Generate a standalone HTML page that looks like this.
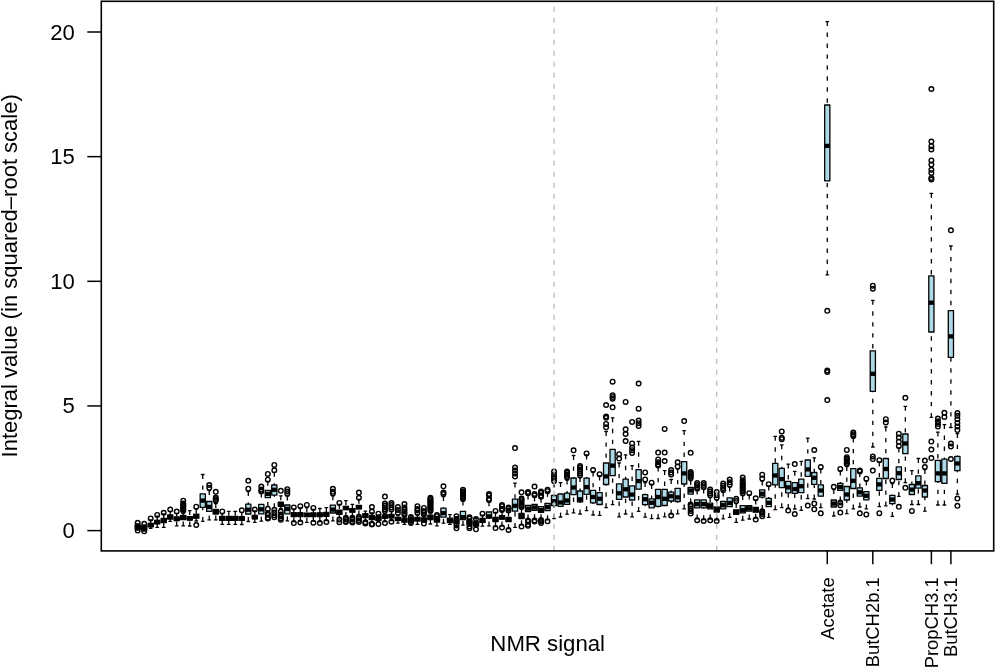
<!DOCTYPE html>
<html><head><meta charset="utf-8"><title>NMR boxplot</title>
<style>html,body{margin:0;padding:0;background:#fff;width:995px;height:667px;overflow:hidden}svg{display:block;will-change:transform}</style>
</head><body>
<svg width="995" height="667" viewBox="0 0 995 667">
<style>
.b{fill:#add8e6;stroke:#000;stroke-width:1.3;stroke-linejoin:round}
.w{fill:none;stroke:#000;stroke-width:1.3;stroke-dasharray:4.4 6.55;stroke-linecap:butt}
.s{fill:none;stroke:#000;stroke-width:1.3;stroke-linecap:round}
.m{fill:none;stroke:#000;stroke-width:4.3;stroke-linecap:butt}
.o{fill:none;stroke:#000;stroke-width:1.4}
.t{fill:none;stroke:#000;stroke-width:1.5}
text{font-family:"Liberation Sans",sans-serif;fill:#000}
.yl{font-size:22.1px;text-anchor:end}
.xl{font-size:18.4px;text-anchor:end}
.ti{font-size:22.2px;text-anchor:middle}
</style>
<rect width="995" height="667" fill="#fff"/>
<rect x="135.1" y="525" width="5.2" height="4" class="b"/><path d="M137.7 524V525" class="w"/><path d="M137.7 530V529" class="w"/><path d="M136.4 524H139M136.4 530H139" class="s"/><path d="M135.1 527H140.3" class="m"/><circle cx="137.7" cy="522.8" r="2.3" class="o"/><circle cx="137.7" cy="530.6" r="2.3" class="o"/>
<rect x="141.61" y="526" width="5.2" height="4" class="b"/><path d="M144.21 525V526" class="w"/><path d="M144.21 531V530" class="w"/><path d="M142.91 525H145.51M142.91 531H145.51" class="s"/><path d="M141.61 527.8H146.81" class="m"/><circle cx="144.21" cy="523.8" r="2.3" class="o"/><circle cx="144.21" cy="531.3" r="2.3" class="o"/>
<rect x="148.11" y="523.3" width="5.2" height="3.5" class="b"/><path d="M150.71 519.8V523.3" class="w"/><path d="M150.71 528.3V526.8" class="w"/><path d="M149.41 519.8H152.01M149.41 528.3H152.01" class="s"/><path d="M148.11 525H153.31" class="m"/><circle cx="150.71" cy="518.4" r="2.3" class="o"/>
<rect x="154.62" y="520.3" width="5.2" height="3.5" class="b"/><path d="M157.22 516.1V520.3" class="w"/><path d="M157.22 527.4V523.8" class="w"/><path d="M155.92 516.1H158.52M155.92 527.4H158.52" class="s"/><path d="M154.62 522H159.82" class="m"/><circle cx="157.22" cy="514.9" r="2.3" class="o"/>
<rect x="161.12" y="518.4" width="5.2" height="4.1" class="b"/><path d="M163.72 514V518.4" class="w"/><path d="M163.72 527.4V522.5" class="w"/><path d="M162.42 514H165.02M162.42 527.4H165.02" class="s"/><path d="M161.12 520.5H166.32" class="m"/><circle cx="163.72" cy="512.8" r="2.3" class="o"/>
<rect x="167.63" y="515" width="5.2" height="4" class="b"/><path d="M170.23 511.4V515" class="w"/><path d="M170.23 521.4V519" class="w"/><path d="M168.93 511.4H171.53M168.93 521.4H171.53" class="s"/><path d="M167.63 517H172.83" class="m"/><circle cx="170.23" cy="509.6" r="2.3" class="o"/>
<rect x="174.13" y="516.9" width="5.2" height="3.7" class="b"/><path d="M176.73 513.3V516.9" class="w"/><path d="M176.73 525.9V520.6" class="w"/><path d="M175.43 513.3H178.03M175.43 525.9H178.03" class="s"/><path d="M174.13 519H179.33" class="m"/><circle cx="176.73" cy="511.5" r="2.3" class="o"/>
<rect x="180.64" y="515.4" width="5.2" height="4.1" class="b"/><path d="M183.24 513V515.4" class="w"/><path d="M183.24 525.9V519.5" class="w"/><path d="M181.94 513H184.54M181.94 525.9H184.54" class="s"/><path d="M180.64 517.5H185.84" class="m"/><circle cx="183.24" cy="500.7" r="2.3" class="o"/><circle cx="183.24" cy="503.5" r="2.3" class="o"/><circle cx="183.24" cy="504.7" r="2.3" class="o"/><circle cx="183.24" cy="505.9" r="2.3" class="o"/><circle cx="183.24" cy="507.1" r="2.3" class="o"/><circle cx="183.24" cy="508.3" r="2.3" class="o"/><circle cx="183.24" cy="509.5" r="2.3" class="o"/><circle cx="183.24" cy="510.7" r="2.3" class="o"/>
<rect x="187.14" y="516.6" width="5.2" height="3.4" class="b"/><path d="M189.74 510.7V516.6" class="w"/><path d="M189.74 526V520" class="w"/><path d="M188.44 510.7H191.04M188.44 526H191.04" class="s"/><path d="M187.14 518.4H192.34" class="m"/>
<rect x="193.65" y="514.2" width="5.2" height="4" class="b"/><path d="M196.25 509V514.2" class="w"/><path d="M196.25 521V518.2" class="w"/><path d="M194.95 509H197.55M194.95 521H197.55" class="s"/><path d="M193.65 516.4H198.85" class="m"/><circle cx="196.25" cy="506.7" r="2.3" class="o"/><circle cx="196.25" cy="525" r="2.3" class="o"/>
<rect x="200.16" y="493.8" width="5.2" height="13.5" class="b"/><path d="M202.76 474.5V493.8" class="w"/><path d="M202.76 521.3V507.3" class="w"/><path d="M201.46 474.5H204.06M201.46 521.3H204.06" class="s"/><path d="M200.16 500.6H205.36" class="m"/>
<rect x="206.66" y="501.5" width="5.2" height="9.9" class="b"/><path d="M209.26 490.5V501.5" class="w"/><path d="M209.26 519.9V511.4" class="w"/><path d="M207.96 490.5H210.56M207.96 519.9H210.56" class="s"/><path d="M206.66 506.9H211.86" class="m"/><circle cx="209.26" cy="485" r="2.3" class="o"/><circle cx="209.26" cy="487.8" r="2.3" class="o"/>
<rect x="213.17" y="509.5" width="5.2" height="4.5" class="b"/><path d="M215.77 503.5V509.5" class="w"/><path d="M215.77 519.9V514" class="w"/><path d="M214.47 503.5H217.07M214.47 519.9H217.07" class="s"/><path d="M213.17 511.8H218.37" class="m"/><circle cx="215.77" cy="491.8" r="2.3" class="o"/><circle cx="215.77" cy="497.5" r="2.3" class="o"/><circle cx="215.77" cy="499" r="2.3" class="o"/><circle cx="215.77" cy="500.5" r="2.3" class="o"/>
<rect x="219.67" y="516.3" width="5.2" height="4.1" class="b"/><path d="M222.27 513.5V516.3" class="w"/><path d="M222.27 524.4V520.4" class="w"/><path d="M220.97 513.5H223.57M220.97 524.4H223.57" class="s"/><path d="M219.67 518.3H224.87" class="m"/><circle cx="222.27" cy="511.4" r="2.3" class="o"/>
<rect x="226.18" y="516.3" width="5.2" height="4.1" class="b"/><path d="M228.78 511.4V516.3" class="w"/><path d="M228.78 524.4V520.4" class="w"/><path d="M227.48 511.4H230.08M227.48 524.4H230.08" class="s"/><path d="M226.18 518.3H231.38" class="m"/>
<rect x="232.68" y="516.3" width="5.2" height="4.1" class="b"/><path d="M235.28 511.4V516.3" class="w"/><path d="M235.28 524.4V520.4" class="w"/><path d="M233.98 511.4H236.58M233.98 524.4H236.58" class="s"/><path d="M232.68 518.3H237.88" class="m"/>
<rect x="239.19" y="516.6" width="5.2" height="3.8" class="b"/><path d="M241.79 512.3V516.6" class="w"/><path d="M241.79 524.5V520.4" class="w"/><path d="M240.49 512.3H243.09M240.49 524.5H243.09" class="s"/><path d="M239.19 518.5H244.39" class="m"/><circle cx="241.79" cy="510.3" r="2.3" class="o"/>
<rect x="245.69" y="504.2" width="5.2" height="9.8" class="b"/><path d="M248.29 491.5V504.2" class="w"/><path d="M248.29 521.5V514" class="w"/><path d="M246.99 491.5H249.59M246.99 521.5H249.59" class="s"/><path d="M245.69 509.7H250.89" class="m"/><circle cx="248.29" cy="480.8" r="2.3" class="o"/><circle cx="248.29" cy="488.7" r="2.3" class="o"/>
<rect x="252.2" y="515.5" width="5.2" height="3.3" class="b"/><path d="M254.8 511V515.5" class="w"/><path d="M254.8 522.4V518.8" class="w"/><path d="M253.5 511H256.1M253.5 522.4H256.1" class="s"/><path d="M252.2 517.2H257.4" class="m"/><circle cx="254.8" cy="509.5" r="2.3" class="o"/>
<rect x="258.71" y="504.4" width="5.2" height="9.5" class="b"/><path d="M261.31 493V504.4" class="w"/><path d="M261.31 521.2V513.9" class="w"/><path d="M260.01 493H262.61M260.01 521.2H262.61" class="s"/><path d="M258.71 509.3H263.91" class="m"/><circle cx="261.31" cy="486.5" r="2.3" class="o"/><circle cx="261.31" cy="489.5" r="2.3" class="o"/><circle cx="261.31" cy="491.5" r="2.3" class="o"/>
<rect x="265.21" y="490.4" width="5.2" height="7.3" class="b"/><path d="M267.81 481.3V490.4" class="w"/><path d="M267.81 506.3V497.7" class="w"/><path d="M266.51 481.3H269.11M266.51 506.3H269.11" class="s"/><path d="M265.21 493.9H270.41" class="m"/><circle cx="267.81" cy="473.9" r="2.3" class="o"/><circle cx="267.81" cy="479.7" r="2.3" class="o"/><circle cx="267.81" cy="508.9" r="2.3" class="o"/><circle cx="267.81" cy="513.3" r="2.3" class="o"/><circle cx="267.81" cy="514.8" r="2.3" class="o"/><circle cx="267.81" cy="517.6" r="2.3" class="o"/><circle cx="267.81" cy="518.6" r="2.3" class="o"/>
<rect x="271.72" y="485" width="5.2" height="10.1" class="b"/><path d="M274.32 472.3V485" class="w"/><path d="M274.32 507.6V495.1" class="w"/><path d="M273.02 472.3H275.62M273.02 507.6H275.62" class="s"/><path d="M271.72 489.8H276.92" class="m"/><circle cx="274.32" cy="464.9" r="2.3" class="o"/><circle cx="274.32" cy="470.3" r="2.3" class="o"/><circle cx="274.32" cy="509.8" r="2.3" class="o"/><circle cx="274.32" cy="512.6" r="2.3" class="o"/><circle cx="274.32" cy="515.2" r="2.3" class="o"/><circle cx="274.32" cy="517.3" r="2.3" class="o"/>
<rect x="278.22" y="502.2" width="5.2" height="4.1" class="b"/><path d="M280.82 495.8V502.2" class="w"/><path d="M280.82 508.5V506.3" class="w"/><path d="M279.52 495.8H282.12M279.52 508.5H282.12" class="s"/><path d="M278.22 504.3H283.42" class="m"/><circle cx="280.82" cy="490.8" r="2.3" class="o"/><circle cx="280.82" cy="511.6" r="2.3" class="o"/><circle cx="280.82" cy="514.5" r="2.3" class="o"/><circle cx="280.82" cy="516.5" r="2.3" class="o"/><circle cx="280.82" cy="518.5" r="2.3" class="o"/><circle cx="280.82" cy="519.8" r="2.3" class="o"/>
<rect x="284.73" y="505" width="5.2" height="8.8" class="b"/><path d="M287.33 496V505" class="w"/><path d="M287.33 520.9V513.8" class="w"/><path d="M286.03 496H288.63M286.03 520.9H288.63" class="s"/><path d="M284.73 508.8H289.93" class="m"/><circle cx="287.33" cy="489.2" r="2.3" class="o"/><circle cx="287.33" cy="491.5" r="2.3" class="o"/><circle cx="287.33" cy="493.8" r="2.3" class="o"/>
<rect x="291.23" y="512.7" width="5.2" height="3.9" class="b"/><path d="M293.83 509V512.7" class="w"/><path d="M293.83 521.6V516.6" class="w"/><path d="M292.53 509H295.13M292.53 521.6H295.13" class="s"/><path d="M291.23 514.5H296.43" class="m"/><circle cx="293.83" cy="507.4" r="2.3" class="o"/><circle cx="293.83" cy="523.1" r="2.3" class="o"/>
<rect x="297.74" y="512.7" width="5.2" height="3.9" class="b"/><path d="M300.34 507.8V512.7" class="w"/><path d="M300.34 521V516.6" class="w"/><path d="M299.04 507.8H301.64M299.04 521H301.64" class="s"/><path d="M297.74 514.5H302.94" class="m"/><circle cx="300.34" cy="506.2" r="2.3" class="o"/><circle cx="300.34" cy="522.5" r="2.3" class="o"/>
<rect x="304.24" y="513.2" width="5.2" height="3.4" class="b"/><path d="M306.84 507.6V513.2" class="w"/><path d="M306.84 522.4V516.6" class="w"/><path d="M305.54 507.6H308.14M305.54 522.4H308.14" class="s"/><path d="M304.24 515H309.44" class="m"/><circle cx="306.84" cy="504.9" r="2.3" class="o"/>
<rect x="310.75" y="513" width="5.2" height="3.6" class="b"/><path d="M313.35 509.5V513" class="w"/><path d="M313.35 521.2V516.6" class="w"/><path d="M312.05 509.5H314.65M312.05 521.2H314.65" class="s"/><path d="M310.75 514.8H315.95" class="m"/><circle cx="313.35" cy="507.9" r="2.3" class="o"/><circle cx="313.35" cy="522.7" r="2.3" class="o"/>
<rect x="317.25" y="512.9" width="5.2" height="3.6" class="b"/><path d="M319.85 508.5V512.9" class="w"/><path d="M319.85 521.5V516.5" class="w"/><path d="M318.55 508.5H321.15M318.55 521.5H321.15" class="s"/><path d="M317.25 514.7H322.45" class="m"/><circle cx="319.85" cy="523.1" r="2.3" class="o"/>
<rect x="323.76" y="512.4" width="5.2" height="3.9" class="b"/><path d="M326.36 507.7V512.4" class="w"/><path d="M326.36 520.6V516.3" class="w"/><path d="M325.06 507.7H327.66M325.06 520.6H327.66" class="s"/><path d="M323.76 514.3H328.96" class="m"/><circle cx="326.36" cy="522" r="2.3" class="o"/>
<rect x="330.27" y="505.1" width="5.2" height="7.9" class="b"/><path d="M332.87 495.8V505.1" class="w"/><path d="M332.87 520.9V513" class="w"/><path d="M331.57 495.8H334.17M331.57 520.9H334.17" class="s"/><path d="M330.27 509.6H335.47" class="m"/><circle cx="332.87" cy="488.8" r="2.3" class="o"/><circle cx="332.87" cy="491.8" r="2.3" class="o"/><circle cx="332.87" cy="493.5" r="2.3" class="o"/>
<rect x="336.77" y="510.2" width="5.2" height="4.2" class="b"/><path d="M339.37 504.5V510.2" class="w"/><path d="M339.37 517.8V514.4" class="w"/><path d="M338.07 504.5H340.67M338.07 517.8H340.67" class="s"/><path d="M336.77 512.3H341.97" class="m"/><circle cx="339.37" cy="502.9" r="2.3" class="o"/><circle cx="339.37" cy="519.6" r="2.3" class="o"/><circle cx="339.37" cy="522.2" r="2.3" class="o"/>
<rect x="343.28" y="506.4" width="5.2" height="3.2" class="b"/><path d="M345.88 500.6V506.4" class="w"/><path d="M345.88 516.5V509.6" class="w"/><path d="M344.58 500.6H347.18M344.58 516.5H347.18" class="s"/><path d="M343.28 508H348.48" class="m"/><circle cx="345.88" cy="517.8" r="2.3" class="o"/><circle cx="345.88" cy="519.3" r="2.3" class="o"/><circle cx="345.88" cy="521.2" r="2.3" class="o"/><circle cx="345.88" cy="522" r="2.3" class="o"/>
<rect x="349.78" y="508.6" width="5.2" height="3.6" class="b"/><path d="M352.38 504.4V508.6" class="w"/><path d="M352.38 516.3V512.2" class="w"/><path d="M351.08 504.4H353.68M351.08 516.3H353.68" class="s"/><path d="M349.78 510.4H354.98" class="m"/><circle cx="352.38" cy="517.8" r="2.3" class="o"/><circle cx="352.38" cy="519.5" r="2.3" class="o"/><circle cx="352.38" cy="521.6" r="2.3" class="o"/><circle cx="352.38" cy="522.5" r="2.3" class="o"/>
<rect x="356.29" y="505.3" width="5.2" height="3.6" class="b"/><path d="M358.89 499.3V505.3" class="w"/><path d="M358.89 514.8V508.9" class="w"/><path d="M357.59 499.3H360.19M357.59 514.8H360.19" class="s"/><path d="M356.29 507.2H361.49" class="m"/><circle cx="358.89" cy="492.6" r="2.3" class="o"/><circle cx="358.89" cy="497.8" r="2.3" class="o"/><circle cx="358.89" cy="516.8" r="2.3" class="o"/><circle cx="358.89" cy="518.5" r="2.3" class="o"/><circle cx="358.89" cy="520.5" r="2.3" class="o"/><circle cx="358.89" cy="522" r="2.3" class="o"/>
<rect x="362.79" y="513.6" width="5.2" height="3.9" class="b"/><path d="M365.39 511.1V513.6" class="w"/><path d="M365.39 520.5V517.5" class="w"/><path d="M364.09 511.1H366.69M364.09 520.5H366.69" class="s"/><path d="M362.79 515.5H367.99" class="m"/><circle cx="365.39" cy="522.2" r="2.3" class="o"/><circle cx="365.39" cy="523.4" r="2.3" class="o"/>
<rect x="369.3" y="515.4" width="5.2" height="4.2" class="b"/><path d="M371.9 513V515.4" class="w"/><path d="M371.9 522V519.6" class="w"/><path d="M370.6 513H373.2M370.6 522H373.2" class="s"/><path d="M369.3 517.5H374.5" class="m"/><circle cx="371.9" cy="507" r="2.3" class="o"/><circle cx="371.9" cy="511.6" r="2.3" class="o"/><circle cx="371.9" cy="523.9" r="2.3" class="o"/><circle cx="371.9" cy="524.6" r="2.3" class="o"/>
<rect x="375.8" y="516.7" width="5.2" height="3.7" class="b"/><path d="M378.4 515V516.7" class="w"/><path d="M378.4 521.6V520.4" class="w"/><path d="M377.1 515H379.7M377.1 521.6H379.7" class="s"/><path d="M375.8 518.5H381" class="m"/><circle cx="378.4" cy="513.7" r="2.3" class="o"/><circle cx="378.4" cy="524" r="2.3" class="o"/>
<rect x="382.31" y="515" width="5.2" height="3.2" class="b"/><path d="M384.91 513.5V515" class="w"/><path d="M384.91 521.5V518.2" class="w"/><path d="M383.61 513.5H386.21M383.61 521.5H386.21" class="s"/><path d="M382.31 516.6H387.51" class="m"/><circle cx="384.91" cy="496.6" r="2.3" class="o"/><circle cx="384.91" cy="503.5" r="2.3" class="o"/><circle cx="384.91" cy="505.6" r="2.3" class="o"/><circle cx="384.91" cy="507.5" r="2.3" class="o"/><circle cx="384.91" cy="509.3" r="2.3" class="o"/><circle cx="384.91" cy="511" r="2.3" class="o"/><circle cx="384.91" cy="522.9" r="2.3" class="o"/>
<rect x="388.82" y="514.5" width="5.2" height="3.3" class="b"/><path d="M391.42 511.5V514.5" class="w"/><path d="M391.42 520.5V517.8" class="w"/><path d="M390.12 511.5H392.72M390.12 520.5H392.72" class="s"/><path d="M388.82 516.2H394.02" class="m"/><circle cx="391.42" cy="503" r="2.3" class="o"/><circle cx="391.42" cy="505" r="2.3" class="o"/><circle cx="391.42" cy="507.5" r="2.3" class="o"/><circle cx="391.42" cy="509.5" r="2.3" class="o"/><circle cx="391.42" cy="521.7" r="2.3" class="o"/>
<rect x="395.32" y="517.5" width="5.2" height="2.9" class="b"/><path d="M397.92 515V517.5" class="w"/><path d="M397.92 523.1V520.4" class="w"/><path d="M396.62 515H399.22M396.62 523.1H399.22" class="s"/><path d="M395.32 519H400.52" class="m"/><circle cx="397.92" cy="507" r="2.3" class="o"/><circle cx="397.92" cy="510" r="2.3" class="o"/><circle cx="397.92" cy="513" r="2.3" class="o"/>
<rect x="401.83" y="518.2" width="5.2" height="4" class="b"/><path d="M404.43 516.5V518.2" class="w"/><path d="M404.43 524.4V522.2" class="w"/><path d="M403.13 516.5H405.73M403.13 524.4H405.73" class="s"/><path d="M401.83 520.2H407.03" class="m"/><circle cx="404.43" cy="504.1" r="2.3" class="o"/><circle cx="404.43" cy="507.5" r="2.3" class="o"/><circle cx="404.43" cy="509.5" r="2.3" class="o"/><circle cx="404.43" cy="511.5" r="2.3" class="o"/><circle cx="404.43" cy="513.3" r="2.3" class="o"/><circle cx="404.43" cy="515" r="2.3" class="o"/>
<rect x="408.33" y="518" width="5.2" height="4" class="b"/><path d="M410.93 516V518" class="w"/><path d="M410.93 524V522" class="w"/><path d="M409.63 516H412.23M409.63 524H412.23" class="s"/><path d="M408.33 520H413.53" class="m"/><circle cx="410.93" cy="517" r="2.3" class="o"/><circle cx="410.93" cy="520" r="2.3" class="o"/><circle cx="410.93" cy="523" r="2.3" class="o"/>
<rect x="414.84" y="517.4" width="5.2" height="3.4" class="b"/><path d="M417.44 514.8V517.4" class="w"/><path d="M417.44 524.4V520.8" class="w"/><path d="M416.14 514.8H418.74M416.14 524.4H418.74" class="s"/><path d="M414.84 519.2H420.04" class="m"/><circle cx="417.44" cy="506.2" r="2.3" class="o"/><circle cx="417.44" cy="509" r="2.3" class="o"/><circle cx="417.44" cy="510.5" r="2.3" class="o"/><circle cx="417.44" cy="513.1" r="2.3" class="o"/>
<rect x="421.34" y="518" width="5.2" height="3.7" class="b"/><path d="M423.94 516V518" class="w"/><path d="M423.94 522.2V521.7" class="w"/><path d="M422.64 516H425.24M422.64 522.2H425.24" class="s"/><path d="M421.34 520H426.54" class="m"/><circle cx="423.94" cy="507.9" r="2.3" class="o"/><circle cx="423.94" cy="511" r="2.3" class="o"/><circle cx="423.94" cy="512.7" r="2.3" class="o"/><circle cx="423.94" cy="514.5" r="2.3" class="o"/><circle cx="423.94" cy="523.6" r="2.3" class="o"/>
<rect x="427.85" y="515.2" width="5.2" height="4.3" class="b"/><path d="M430.45 512.5V515.2" class="w"/><path d="M430.45 524V519.5" class="w"/><path d="M429.15 512.5H431.75M429.15 524H431.75" class="s"/><path d="M427.85 517.2H433.05" class="m"/><circle cx="430.45" cy="497.8" r="2.3" class="o"/><circle cx="430.45" cy="499" r="2.3" class="o"/><circle cx="430.45" cy="500.2" r="2.3" class="o"/><circle cx="430.45" cy="501.4" r="2.3" class="o"/><circle cx="430.45" cy="502.6" r="2.3" class="o"/><circle cx="430.45" cy="503.8" r="2.3" class="o"/><circle cx="430.45" cy="505" r="2.3" class="o"/><circle cx="430.45" cy="506.2" r="2.3" class="o"/><circle cx="430.45" cy="507.4" r="2.3" class="o"/><circle cx="430.45" cy="508.6" r="2.3" class="o"/><circle cx="430.45" cy="509.8" r="2.3" class="o"/><circle cx="430.45" cy="511" r="2.3" class="o"/>
<rect x="434.35" y="517.6" width="5.2" height="4.6" class="b"/><path d="M436.95 516.5V517.6" class="w"/><path d="M436.95 525.9V522.2" class="w"/><path d="M435.65 516.5H438.25M435.65 525.9H438.25" class="s"/><path d="M434.35 519.8H439.55" class="m"/><circle cx="436.95" cy="515" r="2.3" class="o"/><circle cx="436.95" cy="516.2" r="2.3" class="o"/>
<rect x="440.86" y="508.2" width="5.2" height="9" class="b"/><path d="M443.46 496.5V508.2" class="w"/><path d="M443.46 523.2V517.2" class="w"/><path d="M442.16 496.5H444.76M442.16 523.2H444.76" class="s"/><path d="M440.86 513.1H446.06" class="m"/><circle cx="443.46" cy="486.3" r="2.3" class="o"/><circle cx="443.46" cy="492.5" r="2.3" class="o"/><circle cx="443.46" cy="494" r="2.3" class="o"/>
<rect x="447.36" y="518.1" width="5.2" height="4.5" class="b"/><path d="M449.96 514.6V518.1" class="w"/><path d="M449.96 524.4V522.6" class="w"/><path d="M448.66 514.6H451.26M448.66 524.4H451.26" class="s"/><path d="M447.36 520.3H452.56" class="m"/>
<rect x="453.87" y="520" width="5.2" height="3.5" class="b"/><path d="M456.47 517V520" class="w"/><path d="M456.47 526V523.5" class="w"/><path d="M455.17 517H457.77M455.17 526H457.77" class="s"/><path d="M453.87 521.8H459.07" class="m"/><circle cx="456.47" cy="516.2" r="2.3" class="o"/><circle cx="456.47" cy="519" r="2.3" class="o"/><circle cx="456.47" cy="525.5" r="2.3" class="o"/><circle cx="456.47" cy="528.3" r="2.3" class="o"/>
<rect x="460.38" y="511.3" width="5.2" height="8.2" class="b"/><path d="M462.98 501V511.3" class="w"/><path d="M462.98 525.1V519.5" class="w"/><path d="M461.68 501H464.28M461.68 525.1H464.28" class="s"/><path d="M460.38 517.2H465.58" class="m"/><circle cx="462.98" cy="489.8" r="2.3" class="o"/><circle cx="462.98" cy="491.5" r="2.3" class="o"/><circle cx="462.98" cy="493" r="2.3" class="o"/><circle cx="462.98" cy="494.5" r="2.3" class="o"/><circle cx="462.98" cy="496" r="2.3" class="o"/><circle cx="462.98" cy="497.5" r="2.3" class="o"/><circle cx="462.98" cy="499" r="2.3" class="o"/>
<rect x="466.88" y="520.5" width="5.2" height="4" class="b"/><path d="M469.48 519V520.5" class="w"/><path d="M469.48 526V524.5" class="w"/><path d="M468.18 519H470.78M468.18 526H470.78" class="s"/><path d="M466.88 522.5H472.08" class="m"/><circle cx="469.48" cy="517.3" r="2.3" class="o"/><circle cx="469.48" cy="518.5" r="2.3" class="o"/><circle cx="469.48" cy="526.5" r="2.3" class="o"/><circle cx="469.48" cy="528.2" r="2.3" class="o"/>
<rect x="473.39" y="522" width="5.2" height="4" class="b"/><path d="M475.99 518V522" class="w"/><path d="M475.99 527V526" class="w"/><path d="M474.69 518H477.29M474.69 527H477.29" class="s"/><path d="M473.39 524H478.59" class="m"/><circle cx="475.99" cy="519" r="2.3" class="o"/><circle cx="475.99" cy="529.3" r="2.3" class="o"/>
<rect x="479.89" y="518.5" width="5.2" height="3.9" class="b"/><path d="M482.49 515.2V518.5" class="w"/><path d="M482.49 526.2V522.4" class="w"/><path d="M481.19 515.2H483.79M481.19 526.2H483.79" class="s"/><path d="M479.89 520.5H485.09" class="m"/><circle cx="482.49" cy="513.7" r="2.3" class="o"/>
<rect x="486.4" y="512" width="5.2" height="6.2" class="b"/><path d="M489 501.8V512" class="w"/><path d="M489 525.9V518.2" class="w"/><path d="M487.7 501.8H490.3M487.7 525.9H490.3" class="s"/><path d="M486.4 516.3H491.6" class="m"/><circle cx="489" cy="494" r="2.3" class="o"/><circle cx="489" cy="495.3" r="2.3" class="o"/><circle cx="489" cy="498.8" r="2.3" class="o"/><circle cx="489" cy="500" r="2.3" class="o"/>
<rect x="492.9" y="517.3" width="5.2" height="4.2" class="b"/><path d="M495.5 512.4V517.3" class="w"/><path d="M495.5 526.5V521.5" class="w"/><path d="M494.2 512.4H496.8M494.2 526.5H496.8" class="s"/><path d="M492.9 519.5H498.1" class="m"/><circle cx="495.5" cy="510.9" r="2.3" class="o"/><circle cx="495.5" cy="528.1" r="2.3" class="o"/>
<rect x="499.41" y="515.6" width="5.2" height="3.5" class="b"/><path d="M502.01 511.5V515.6" class="w"/><path d="M502.01 526V519.1" class="w"/><path d="M500.71 511.5H503.31M500.71 526H503.31" class="s"/><path d="M499.41 517.4H504.61" class="m"/><circle cx="502.01" cy="505" r="2.3" class="o"/><circle cx="502.01" cy="506.2" r="2.3" class="o"/><circle cx="502.01" cy="508.8" r="2.3" class="o"/><circle cx="502.01" cy="510" r="2.3" class="o"/><circle cx="502.01" cy="527.4" r="2.3" class="o"/>
<rect x="505.91" y="517.5" width="5.2" height="4.2" class="b"/><path d="M508.51 512V517.5" class="w"/><path d="M508.51 528.5V521.7" class="w"/><path d="M507.21 512H509.81M507.21 528.5H509.81" class="s"/><path d="M505.91 519.6H511.11" class="m"/><circle cx="508.51" cy="507.4" r="2.3" class="o"/><circle cx="508.51" cy="508.6" r="2.3" class="o"/><circle cx="508.51" cy="510.5" r="2.3" class="o"/><circle cx="508.51" cy="530" r="2.3" class="o"/>
<rect x="512.42" y="499.2" width="5.2" height="12" class="b"/><path d="M515.02 483.2V499.2" class="w"/><path d="M515.02 527.4V511.2" class="w"/><path d="M513.72 483.2H516.32M513.72 527.4H516.32" class="s"/><path d="M512.42 505.8H517.62" class="m"/><circle cx="515.02" cy="448.1" r="2.3" class="o"/><circle cx="515.02" cy="467.5" r="2.3" class="o"/><circle cx="515.02" cy="470.5" r="2.3" class="o"/><circle cx="515.02" cy="473.5" r="2.3" class="o"/><circle cx="515.02" cy="476.5" r="2.3" class="o"/>
<rect x="518.93" y="513.4" width="5.2" height="5.2" class="b"/><path d="M521.53 509V513.4" class="w"/><path d="M521.53 524.8V518.6" class="w"/><path d="M520.23 509H522.83M520.23 524.8H522.83" class="s"/><path d="M518.93 515.8H524.13" class="m"/><circle cx="521.53" cy="492.3" r="2.3" class="o"/><circle cx="521.53" cy="498.6" r="2.3" class="o"/><circle cx="521.53" cy="500" r="2.3" class="o"/><circle cx="521.53" cy="502" r="2.3" class="o"/><circle cx="521.53" cy="504" r="2.3" class="o"/><circle cx="521.53" cy="505.5" r="2.3" class="o"/><circle cx="521.53" cy="507" r="2.3" class="o"/><circle cx="521.53" cy="526.6" r="2.3" class="o"/>
<rect x="525.43" y="505.3" width="5.2" height="6.3" class="b"/><path d="M528.03 495V505.3" class="w"/><path d="M528.03 519V511.6" class="w"/><path d="M526.73 495H529.33M526.73 519H529.33" class="s"/><path d="M525.43 508.7H530.63" class="m"/><circle cx="528.03" cy="492" r="2.3" class="o"/><circle cx="528.03" cy="493.3" r="2.3" class="o"/><circle cx="528.03" cy="520.4" r="2.3" class="o"/><circle cx="528.03" cy="521.6" r="2.3" class="o"/><circle cx="528.03" cy="524.6" r="2.3" class="o"/><circle cx="528.03" cy="525.8" r="2.3" class="o"/>
<rect x="531.94" y="504.4" width="5.2" height="5.9" class="b"/><path d="M534.54 497V504.4" class="w"/><path d="M534.54 518.5V510.3" class="w"/><path d="M533.24 497H535.84M533.24 518.5H535.84" class="s"/><path d="M531.94 507.5H537.14" class="m"/><circle cx="534.54" cy="486.6" r="2.3" class="o"/><circle cx="534.54" cy="494" r="2.3" class="o"/><circle cx="534.54" cy="495.3" r="2.3" class="o"/><circle cx="534.54" cy="520.4" r="2.3" class="o"/><circle cx="534.54" cy="521.6" r="2.3" class="o"/>
<rect x="538.44" y="506.6" width="5.2" height="5.7" class="b"/><path d="M541.04 498.3V506.6" class="w"/><path d="M541.04 518.6V512.3" class="w"/><path d="M539.74 498.3H542.34M539.74 518.6H542.34" class="s"/><path d="M538.44 510H543.64" class="m"/><circle cx="541.04" cy="491.5" r="2.3" class="o"/><circle cx="541.04" cy="492.8" r="2.3" class="o"/><circle cx="541.04" cy="495.5" r="2.3" class="o"/><circle cx="541.04" cy="496.8" r="2.3" class="o"/><circle cx="541.04" cy="520" r="2.3" class="o"/><circle cx="541.04" cy="521.3" r="2.3" class="o"/><circle cx="541.04" cy="523" r="2.3" class="o"/>
<rect x="544.95" y="503.3" width="5.2" height="7.2" class="b"/><path d="M547.55 492.5V503.3" class="w"/><path d="M547.55 519.8V510.5" class="w"/><path d="M546.25 492.5H548.85M546.25 519.8H548.85" class="s"/><path d="M544.95 506.9H550.15" class="m"/><circle cx="547.55" cy="489.8" r="2.3" class="o"/><circle cx="547.55" cy="491.2" r="2.3" class="o"/><circle cx="547.55" cy="521.3" r="2.3" class="o"/>
<rect x="551.45" y="495.5" width="5.2" height="10" class="b"/><path d="M554.05 483V495.5" class="w"/><path d="M554.05 518.6V505.5" class="w"/><path d="M552.75 483H555.35M552.75 518.6H555.35" class="s"/><path d="M551.45 501.2H556.65" class="m"/><circle cx="554.05" cy="471.5" r="2.3" class="o"/><circle cx="554.05" cy="474.7" r="2.3" class="o"/><circle cx="554.05" cy="477" r="2.3" class="o"/><circle cx="554.05" cy="478.4" r="2.3" class="o"/><circle cx="554.05" cy="481" r="2.3" class="o"/>
<rect x="557.96" y="494" width="5.2" height="12.3" class="b"/><path d="M560.56 482.7V494" class="w"/><path d="M560.56 517V506.3" class="w"/><path d="M559.26 482.7H561.86M559.26 517H561.86" class="s"/><path d="M557.96 502.5H563.16" class="m"/>
<rect x="564.46" y="493.2" width="5.2" height="11.2" class="b"/><path d="M567.06 480V493.2" class="w"/><path d="M567.06 514.2V504.4" class="w"/><path d="M565.76 480H568.36M565.76 514.2H568.36" class="s"/><path d="M564.46 500.5H569.66" class="m"/><circle cx="567.06" cy="471.5" r="2.3" class="o"/><circle cx="567.06" cy="472.8" r="2.3" class="o"/><circle cx="567.06" cy="474.5" r="2.3" class="o"/><circle cx="567.06" cy="476" r="2.3" class="o"/><circle cx="567.06" cy="477.5" r="2.3" class="o"/>
<rect x="570.97" y="478" width="5.2" height="16.6" class="b"/><path d="M573.57 455.5V478" class="w"/><path d="M573.57 512.9V494.6" class="w"/><path d="M572.27 455.5H574.87M572.27 512.9H574.87" class="s"/><path d="M570.97 487.5H576.17" class="m"/><circle cx="573.57" cy="450.3" r="2.3" class="o"/>
<rect x="577.47" y="491" width="5.2" height="10.9" class="b"/><path d="M580.07 477.5V491" class="w"/><path d="M580.07 514V501.9" class="w"/><path d="M578.77 477.5H581.37M578.77 514H581.37" class="s"/><path d="M577.47 499.3H582.67" class="m"/><circle cx="580.07" cy="466" r="2.3" class="o"/><circle cx="580.07" cy="467.5" r="2.3" class="o"/><circle cx="580.07" cy="469.5" r="2.3" class="o"/><circle cx="580.07" cy="471.5" r="2.3" class="o"/><circle cx="580.07" cy="473.5" r="2.3" class="o"/><circle cx="580.07" cy="475.5" r="2.3" class="o"/>
<rect x="583.98" y="478.2" width="5.2" height="16.1" class="b"/><path d="M586.58 455V478.2" class="w"/><path d="M586.58 510.6V494.3" class="w"/><path d="M585.28 455H587.88M585.28 510.6H587.88" class="s"/><path d="M583.98 487.1H589.18" class="m"/><circle cx="586.58" cy="453.4" r="2.3" class="o"/>
<rect x="590.49" y="490.3" width="5.2" height="12.5" class="b"/><path d="M593.09 472V490.3" class="w"/><path d="M593.09 515V502.8" class="w"/><path d="M591.79 472H594.39M591.79 515H594.39" class="s"/><path d="M590.49 497H595.69" class="m"/><circle cx="593.09" cy="470" r="2.3" class="o"/>
<rect x="596.99" y="492.6" width="5.2" height="11.9" class="b"/><path d="M599.59 476V492.6" class="w"/><path d="M599.59 515.4V504.5" class="w"/><path d="M598.29 476H600.89M598.29 515.4H600.89" class="s"/><path d="M596.99 498.8H602.19" class="m"/><circle cx="599.59" cy="474.2" r="2.3" class="o"/>
<rect x="603.5" y="463" width="5.2" height="21.5" class="b"/><path d="M606.1 431.5V463" class="w"/><path d="M606.1 507.6V484.5" class="w"/><path d="M604.8 431.5H607.4M604.8 507.6H607.4" class="s"/><path d="M603.5 476.4H608.7" class="m"/><circle cx="606.1" cy="405" r="2.3" class="o"/><circle cx="606.1" cy="416.5" r="2.3" class="o"/><circle cx="606.1" cy="417.8" r="2.3" class="o"/><circle cx="606.1" cy="423.9" r="2.3" class="o"/><circle cx="606.1" cy="427.3" r="2.3" class="o"/>
<rect x="610" y="449.4" width="5.2" height="26.3" class="b"/><path d="M612.6 417.8V449.4" class="w"/><path d="M612.6 504.7V475.7" class="w"/><path d="M611.3 417.8H613.9M611.3 504.7H613.9" class="s"/><path d="M610 465.6H615.2" class="m"/><circle cx="612.6" cy="381.7" r="2.3" class="o"/><circle cx="612.6" cy="395.2" r="2.3" class="o"/><circle cx="612.6" cy="396.9" r="2.3" class="o"/><circle cx="612.6" cy="398.7" r="2.3" class="o"/><circle cx="612.6" cy="407.3" r="2.3" class="o"/>
<rect x="616.51" y="483.8" width="5.2" height="15.5" class="b"/><path d="M619.11 463V483.8" class="w"/><path d="M619.11 516.9V499.3" class="w"/><path d="M617.81 463H620.41M617.81 516.9H620.41" class="s"/><path d="M616.51 493.3H621.71" class="m"/><circle cx="619.11" cy="454.2" r="2.3" class="o"/><circle cx="619.11" cy="458.5" r="2.3" class="o"/>
<rect x="623.01" y="479.1" width="5.2" height="17.9" class="b"/><path d="M625.61 454.9V479.1" class="w"/><path d="M625.61 514V497" class="w"/><path d="M624.31 454.9H626.91M624.31 514H626.91" class="s"/><path d="M623.01 489.3H628.21" class="m"/><circle cx="625.61" cy="401.9" r="2.3" class="o"/><circle cx="625.61" cy="429.3" r="2.3" class="o"/><circle cx="625.61" cy="434" r="2.3" class="o"/><circle cx="625.61" cy="441" r="2.3" class="o"/>
<rect x="629.52" y="485.9" width="5.2" height="14.1" class="b"/><path d="M632.12 465.6V485.9" class="w"/><path d="M632.12 516.9V500" class="w"/><path d="M630.82 465.6H633.42M630.82 516.9H633.42" class="s"/><path d="M629.52 494.6H634.72" class="m"/><circle cx="632.12" cy="421.9" r="2.3" class="o"/><circle cx="632.12" cy="443.4" r="2.3" class="o"/><circle cx="632.12" cy="447.5" r="2.3" class="o"/><circle cx="632.12" cy="450.2" r="2.3" class="o"/><circle cx="632.12" cy="452.9" r="2.3" class="o"/>
<rect x="636.02" y="469.7" width="5.2" height="19.5" class="b"/><path d="M638.62 441.4V469.7" class="w"/><path d="M638.62 511.3V489.2" class="w"/><path d="M637.32 441.4H639.92M637.32 511.3H639.92" class="s"/><path d="M636.02 481.1H641.22" class="m"/><circle cx="638.62" cy="383.5" r="2.3" class="o"/><circle cx="638.62" cy="408.7" r="2.3" class="o"/><circle cx="638.62" cy="420.5" r="2.3" class="o"/><circle cx="638.62" cy="423.2" r="2.3" class="o"/><circle cx="638.62" cy="425.9" r="2.3" class="o"/>
<rect x="642.53" y="494.7" width="5.2" height="9.9" class="b"/><path d="M645.13 482.5V494.7" class="w"/><path d="M645.13 517.2V504.6" class="w"/><path d="M643.83 482.5H646.43M643.83 517.2H646.43" class="s"/><path d="M642.53 499.2H647.73" class="m"/><circle cx="645.13" cy="472.4" r="2.3" class="o"/><circle cx="645.13" cy="479.4" r="2.3" class="o"/>
<rect x="649.04" y="498.8" width="5.2" height="9" class="b"/><path d="M651.64 484.5V498.8" class="w"/><path d="M651.64 518.6V507.8" class="w"/><path d="M650.34 484.5H652.94M650.34 518.6H652.94" class="s"/><path d="M649.04 502.8H654.24" class="m"/><circle cx="651.64" cy="482.7" r="2.3" class="o"/>
<rect x="655.54" y="489.3" width="5.2" height="17.1" class="b"/><path d="M658.14 467V489.3" class="w"/><path d="M658.14 518.5V506.4" class="w"/><path d="M656.84 467H659.44M656.84 518.5H659.44" class="s"/><path d="M655.54 497H660.74" class="m"/><circle cx="658.14" cy="452.6" r="2.3" class="o"/><circle cx="658.14" cy="459.4" r="2.3" class="o"/><circle cx="658.14" cy="462.3" r="2.3" class="o"/><circle cx="658.14" cy="464.5" r="2.3" class="o"/><circle cx="658.14" cy="465.5" r="2.3" class="o"/>
<rect x="662.05" y="489.3" width="5.2" height="16.2" class="b"/><path d="M664.65 470.6V489.3" class="w"/><path d="M664.65 516.8V505.5" class="w"/><path d="M663.35 470.6H665.95M663.35 516.8H665.95" class="s"/><path d="M662.05 498.8H667.25" class="m"/><circle cx="664.65" cy="428.9" r="2.3" class="o"/><circle cx="664.65" cy="452.6" r="2.3" class="o"/><circle cx="664.65" cy="461" r="2.3" class="o"/>
<rect x="668.55" y="492.2" width="5.2" height="8.8" class="b"/><path d="M671.15 479.5V492.2" class="w"/><path d="M671.15 514V501" class="w"/><path d="M669.85 479.5H672.45M669.85 514H672.45" class="s"/><path d="M668.55 496.2H673.75" class="m"/><circle cx="671.15" cy="470" r="2.3" class="o"/><circle cx="671.15" cy="472.5" r="2.3" class="o"/><circle cx="671.15" cy="474.4" r="2.3" class="o"/><circle cx="671.15" cy="515.4" r="2.3" class="o"/>
<rect x="675.06" y="488.4" width="5.2" height="13.1" class="b"/><path d="M677.66 469V488.4" class="w"/><path d="M677.66 513.8V501.5" class="w"/><path d="M676.36 469H678.96M676.36 513.8H678.96" class="s"/><path d="M675.06 497.4H680.26" class="m"/><circle cx="677.66" cy="462.3" r="2.3" class="o"/><circle cx="677.66" cy="466.5" r="2.3" class="o"/>
<rect x="681.56" y="461.7" width="5.2" height="22.3" class="b"/><path d="M684.16 430.7V461.7" class="w"/><path d="M684.16 508.9V484" class="w"/><path d="M682.86 430.7H685.46M682.86 508.9H685.46" class="s"/><path d="M681.56 473.4H686.76" class="m"/><circle cx="684.16" cy="421.1" r="2.3" class="o"/>
<rect x="688.07" y="487.3" width="5.2" height="6.8" class="b"/><path d="M690.67 480.5V487.3" class="w"/><path d="M690.67 503V494.1" class="w"/><path d="M689.37 480.5H691.97M689.37 503H691.97" class="s"/><path d="M688.07 490.5H693.27" class="m"/><circle cx="690.67" cy="452.8" r="2.3" class="o"/><circle cx="690.67" cy="472.1" r="2.3" class="o"/><circle cx="690.67" cy="473.5" r="2.3" class="o"/><circle cx="690.67" cy="475" r="2.3" class="o"/><circle cx="690.67" cy="476.5" r="2.3" class="o"/><circle cx="690.67" cy="478" r="2.3" class="o"/><circle cx="690.67" cy="504.6" r="2.3" class="o"/><circle cx="690.67" cy="506" r="2.3" class="o"/><circle cx="690.67" cy="508.5" r="2.3" class="o"/><circle cx="690.67" cy="511" r="2.3" class="o"/><circle cx="690.67" cy="513.6" r="2.3" class="o"/>
<rect x="694.57" y="499.9" width="5.2" height="7.9" class="b"/><path d="M697.17 490V499.9" class="w"/><path d="M697.17 518.8V507.8" class="w"/><path d="M695.87 490H698.47M695.87 518.8H698.47" class="s"/><path d="M694.57 504.1H699.77" class="m"/><circle cx="697.17" cy="483" r="2.3" class="o"/><circle cx="697.17" cy="485" r="2.3" class="o"/><circle cx="697.17" cy="487" r="2.3" class="o"/><circle cx="697.17" cy="488.8" r="2.3" class="o"/><circle cx="697.17" cy="520.2" r="2.3" class="o"/>
<rect x="701.08" y="499.9" width="5.2" height="7.9" class="b"/><path d="M703.68 489V499.9" class="w"/><path d="M703.68 519.6V507.8" class="w"/><path d="M702.38 489H704.98M702.38 519.6H704.98" class="s"/><path d="M701.08 504.1H706.28" class="m"/><circle cx="703.68" cy="483" r="2.3" class="o"/><circle cx="703.68" cy="485" r="2.3" class="o"/><circle cx="703.68" cy="487.3" r="2.3" class="o"/><circle cx="703.68" cy="521" r="2.3" class="o"/>
<rect x="707.58" y="503.1" width="5.2" height="5.7" class="b"/><path d="M710.18 497.5V503.1" class="w"/><path d="M710.18 519V508.8" class="w"/><path d="M708.88 497.5H711.48M708.88 519H711.48" class="s"/><path d="M707.58 506.2H712.78" class="m"/><circle cx="710.18" cy="489.6" r="2.3" class="o"/><circle cx="710.18" cy="491.5" r="2.3" class="o"/><circle cx="710.18" cy="493.5" r="2.3" class="o"/><circle cx="710.18" cy="495.3" r="2.3" class="o"/><circle cx="710.18" cy="520.3" r="2.3" class="o"/>
<rect x="714.09" y="507" width="5.2" height="5" class="b"/><path d="M716.69 500V507" class="w"/><path d="M716.69 519.8V512" class="w"/><path d="M715.39 500H717.99M715.39 519.8H717.99" class="s"/><path d="M714.09 509.6H719.29" class="m"/><circle cx="716.69" cy="492" r="2.3" class="o"/><circle cx="716.69" cy="495.2" r="2.3" class="o"/><circle cx="716.69" cy="497.8" r="2.3" class="o"/><circle cx="716.69" cy="521" r="2.3" class="o"/>
<rect x="720.6" y="501.5" width="5.2" height="7.3" class="b"/><path d="M723.2 492V501.5" class="w"/><path d="M723.2 518.8V508.8" class="w"/><path d="M721.9 492H724.5M721.9 518.8H724.5" class="s"/><path d="M720.6 505.2H725.8" class="m"/><circle cx="723.2" cy="483.5" r="2.3" class="o"/><circle cx="723.2" cy="485.8" r="2.3" class="o"/><circle cx="723.2" cy="488" r="2.3" class="o"/><circle cx="723.2" cy="490" r="2.3" class="o"/>
<rect x="727.1" y="497.8" width="5.2" height="8.9" class="b"/><path d="M729.7 487V497.8" class="w"/><path d="M729.7 517.3V506.7" class="w"/><path d="M728.4 487H731M728.4 517.3H731" class="s"/><path d="M727.1 503H732.3" class="m"/><circle cx="729.7" cy="479.5" r="2.3" class="o"/><circle cx="729.7" cy="482.3" r="2.3" class="o"/><circle cx="729.7" cy="484.7" r="2.3" class="o"/>
<rect x="733.61" y="509.8" width="5.2" height="4.5" class="b"/><path d="M736.21 503.5V509.8" class="w"/><path d="M736.21 522.4V514.3" class="w"/><path d="M734.91 503.5H737.51M734.91 522.4H737.51" class="s"/><path d="M733.61 511.8H738.81" class="m"/><circle cx="736.21" cy="498.8" r="2.3" class="o"/><circle cx="736.21" cy="501.1" r="2.3" class="o"/>
<rect x="740.11" y="505.6" width="5.2" height="7.3" class="b"/><path d="M742.71 495.5V505.6" class="w"/><path d="M742.71 520.2V512.9" class="w"/><path d="M741.41 495.5H744.01M741.41 520.2H744.01" class="s"/><path d="M740.11 510.1H745.31" class="m"/><circle cx="742.71" cy="477.5" r="2.3" class="o"/><circle cx="742.71" cy="480.3" r="2.3" class="o"/><circle cx="742.71" cy="482.5" r="2.3" class="o"/><circle cx="742.71" cy="484" r="2.3" class="o"/><circle cx="742.71" cy="485.5" r="2.3" class="o"/><circle cx="742.71" cy="487" r="2.3" class="o"/><circle cx="742.71" cy="488.5" r="2.3" class="o"/><circle cx="742.71" cy="490" r="2.3" class="o"/><circle cx="742.71" cy="491.5" r="2.3" class="o"/><circle cx="742.71" cy="493.2" r="2.3" class="o"/>
<rect x="746.62" y="505.6" width="5.2" height="5.6" class="b"/><path d="M749.22 495V505.6" class="w"/><path d="M749.22 519V511.2" class="w"/><path d="M747.92 495H750.52M747.92 519H750.52" class="s"/><path d="M746.62 508.4H751.82" class="m"/><circle cx="749.22" cy="493.2" r="2.3" class="o"/>
<rect x="753.12" y="507.4" width="5.2" height="4.8" class="b"/><path d="M755.72 500V507.4" class="w"/><path d="M755.72 518.2V512.2" class="w"/><path d="M754.42 500H757.02M754.42 518.2H757.02" class="s"/><path d="M753.12 510.1H758.32" class="m"/><circle cx="755.72" cy="498.3" r="2.3" class="o"/><circle cx="755.72" cy="519.6" r="2.3" class="o"/>
<rect x="759.63" y="489.8" width="5.2" height="7.3" class="b"/><path d="M762.23 481V489.8" class="w"/><path d="M762.23 509.5V497.1" class="w"/><path d="M760.93 481H763.53M760.93 509.5H763.53" class="s"/><path d="M759.63 493.8H764.83" class="m"/><circle cx="762.23" cy="474.7" r="2.3" class="o"/><circle cx="762.23" cy="478.6" r="2.3" class="o"/><circle cx="762.23" cy="511.2" r="2.3" class="o"/><circle cx="762.23" cy="512.5" r="2.3" class="o"/><circle cx="762.23" cy="514" r="2.3" class="o"/><circle cx="762.23" cy="516.2" r="2.3" class="o"/>
<rect x="766.13" y="498.3" width="5.2" height="8.4" class="b"/><path d="M768.73 486V498.3" class="w"/><path d="M768.73 517.4V506.7" class="w"/><path d="M767.43 486H770.03M767.43 517.4H770.03" class="s"/><path d="M766.13 502.8H771.33" class="m"/><circle cx="768.73" cy="484.2" r="2.3" class="o"/>
<rect x="772.64" y="463.4" width="5.2" height="21.4" class="b"/><path d="M775.24 436.4V463.4" class="w"/><path d="M775.24 509.7V484.8" class="w"/><path d="M773.94 436.4H776.54M773.94 509.7H776.54" class="s"/><path d="M772.64 475.5H777.84" class="m"/>
<rect x="779.15" y="468.4" width="5.2" height="19.2" class="b"/><path d="M781.75 444.9V468.4" class="w"/><path d="M781.75 507.6V487.6" class="w"/><path d="M780.45 444.9H783.05M780.45 507.6H783.05" class="s"/><path d="M779.15 479.1H784.35" class="m"/><circle cx="781.75" cy="431.4" r="2.3" class="o"/><circle cx="781.75" cy="437.8" r="2.3" class="o"/><circle cx="781.75" cy="439.2" r="2.3" class="o"/>
<rect x="785.65" y="481.4" width="5.2" height="11.4" class="b"/><path d="M788.25 464.1V481.4" class="w"/><path d="M788.25 508.5V492.8" class="w"/><path d="M786.95 464.1H789.55M786.95 508.5H789.55" class="s"/><path d="M785.65 487.4H790.85" class="m"/><circle cx="788.25" cy="510.6" r="2.3" class="o"/>
<rect x="792.16" y="482.7" width="5.2" height="10.6" class="b"/><path d="M794.76 471.3V482.7" class="w"/><path d="M794.76 509V493.3" class="w"/><path d="M793.46 471.3H796.06M793.46 509H796.06" class="s"/><path d="M792.16 489.1H797.36" class="m"/><circle cx="794.76" cy="464.1" r="2.3" class="o"/><circle cx="794.76" cy="514" r="2.3" class="o"/>
<rect x="798.66" y="479.1" width="5.2" height="13.5" class="b"/><path d="M801.26 461.3V479.1" class="w"/><path d="M801.26 510.4V492.6" class="w"/><path d="M799.96 461.3H802.56M799.96 510.4H802.56" class="s"/><path d="M798.66 486.2H803.86" class="m"/>
<rect x="805.17" y="460" width="5.2" height="16.3" class="b"/><path d="M807.77 438.2V460" class="w"/><path d="M807.77 498.6V476.3" class="w"/><path d="M806.47 438.2H809.07M806.47 498.6H809.07" class="s"/><path d="M805.17 469.4H810.37" class="m"/><circle cx="807.77" cy="505.6" r="2.3" class="o"/>
<rect x="811.67" y="472.5" width="5.2" height="11.9" class="b"/><path d="M814.27 457.8V472.5" class="w"/><path d="M814.27 499V484.4" class="w"/><path d="M812.97 457.8H815.57M812.97 499H815.57" class="s"/><path d="M811.67 477.8H816.87" class="m"/><circle cx="814.27" cy="450" r="2.3" class="o"/><circle cx="814.27" cy="503.6" r="2.3" class="o"/><circle cx="814.27" cy="509.3" r="2.3" class="o"/>
<rect x="818.18" y="484.8" width="5.2" height="11.4" class="b"/><path d="M820.78 469V484.8" class="w"/><path d="M820.78 507.6V496.2" class="w"/><path d="M819.48 469H822.08M819.48 507.6H822.08" class="s"/><path d="M818.18 490.5H823.38" class="m"/><circle cx="820.78" cy="467" r="2.3" class="o"/><circle cx="820.78" cy="513.3" r="2.3" class="o"/>
<rect x="824.68" y="105" width="5.2" height="75.8" class="b"/><path d="M827.28 21.6V105" class="w"/><path d="M827.28 274.9V180.8" class="w"/><path d="M825.98 21.6H828.58M825.98 274.9H828.58" class="s"/><path d="M824.68 145.9H829.88" class="m"/><circle cx="827.28" cy="310.8" r="2.3" class="o"/><circle cx="827.28" cy="370.5" r="2.3" class="o"/><circle cx="827.28" cy="372" r="2.3" class="o"/><circle cx="827.28" cy="400.1" r="2.3" class="o"/>
<rect x="831.19" y="500" width="5.2" height="7" class="b"/><path d="M833.79 489.5V500" class="w"/><path d="M833.79 516V507" class="w"/><path d="M832.49 489.5H835.09M832.49 516H835.09" class="s"/><path d="M831.19 503.6H836.39" class="m"/><circle cx="833.79" cy="486.8" r="2.3" class="o"/>
<rect x="837.69" y="483.4" width="5.2" height="7" class="b"/><path d="M840.29 471V483.4" class="w"/><path d="M840.29 501V490.4" class="w"/><path d="M838.99 471H841.59M838.99 501H841.59" class="s"/><path d="M837.69 487.1H842.89" class="m"/><circle cx="840.29" cy="468.9" r="2.3" class="o"/><circle cx="840.29" cy="502.5" r="2.3" class="o"/><circle cx="840.29" cy="505.3" r="2.3" class="o"/><circle cx="840.29" cy="512.6" r="2.3" class="o"/>
<rect x="844.2" y="486.5" width="5.2" height="13.5" class="b"/><path d="M846.8 466.5V486.5" class="w"/><path d="M846.8 513.7V500" class="w"/><path d="M845.5 466.5H848.1M845.5 513.7H848.1" class="s"/><path d="M844.2 494.5H849.4" class="m"/><circle cx="846.8" cy="449.9" r="2.3" class="o"/><circle cx="846.8" cy="457.2" r="2.3" class="o"/><circle cx="846.8" cy="458.5" r="2.3" class="o"/><circle cx="846.8" cy="460" r="2.3" class="o"/><circle cx="846.8" cy="461.5" r="2.3" class="o"/><circle cx="846.8" cy="463" r="2.3" class="o"/><circle cx="846.8" cy="464" r="2.3" class="o"/>
<rect x="850.71" y="468.7" width="5.2" height="19.8" class="b"/><path d="M853.31 438V468.7" class="w"/><path d="M853.31 508.9V488.5" class="w"/><path d="M852.01 438H854.61M852.01 508.9H854.61" class="s"/><path d="M850.71 480.8H855.91" class="m"/><circle cx="853.31" cy="432.6" r="2.3" class="o"/><circle cx="853.31" cy="434.3" r="2.3" class="o"/><circle cx="853.31" cy="436" r="2.3" class="o"/>
<rect x="857.21" y="487.8" width="5.2" height="8.3" class="b"/><path d="M859.81 472.5V487.8" class="w"/><path d="M859.81 507V496.1" class="w"/><path d="M858.51 472.5H861.11M858.51 507H861.11" class="s"/><path d="M857.21 492.3H862.41" class="m"/><circle cx="859.81" cy="470.6" r="2.3" class="o"/><circle cx="859.81" cy="471.4" r="2.3" class="o"/><circle cx="859.81" cy="513.3" r="2.3" class="o"/>
<rect x="863.72" y="491.7" width="5.2" height="8.1" class="b"/><path d="M866.32 481V491.7" class="w"/><path d="M866.32 508.8V499.8" class="w"/><path d="M865.02 481H867.62M865.02 508.8H867.62" class="s"/><path d="M863.72 495.8H868.92" class="m"/><circle cx="866.32" cy="478.7" r="2.3" class="o"/><circle cx="866.32" cy="514.4" r="2.3" class="o"/>
<rect x="870.22" y="350.8" width="5.2" height="40.6" class="b"/><path d="M872.82 300.3V350.8" class="w"/><path d="M872.82 447V391.4" class="w"/><path d="M871.52 300.3H874.12M871.52 447H874.12" class="s"/><path d="M870.22 373.8H875.42" class="m"/><circle cx="872.82" cy="285.7" r="2.3" class="o"/><circle cx="872.82" cy="288.7" r="2.3" class="o"/><circle cx="872.82" cy="456.6" r="2.3" class="o"/><circle cx="872.82" cy="459.1" r="2.3" class="o"/><circle cx="872.82" cy="470.6" r="2.3" class="o"/>
<rect x="876.73" y="478.4" width="5.2" height="12" class="b"/><path d="M879.33 462V478.4" class="w"/><path d="M879.33 506.6V490.4" class="w"/><path d="M878.03 462H880.63M878.03 506.6H880.63" class="s"/><path d="M876.73 484.4H881.93" class="m"/><circle cx="879.33" cy="460.2" r="2.3" class="o"/><circle cx="879.33" cy="513.2" r="2.3" class="o"/>
<rect x="883.23" y="458.5" width="5.2" height="20" class="b"/><path d="M885.83 427V458.5" class="w"/><path d="M885.83 505.8V478.5" class="w"/><path d="M884.53 427H887.13M884.53 505.8H887.13" class="s"/><path d="M883.23 469H888.43" class="m"/><circle cx="885.83" cy="419.2" r="2.3" class="o"/><circle cx="885.83" cy="422.4" r="2.3" class="o"/>
<rect x="889.74" y="495.3" width="5.2" height="8.4" class="b"/><path d="M892.34 483.7V495.3" class="w"/><path d="M892.34 516.3V503.7" class="w"/><path d="M891.04 483.7H893.64M891.04 516.3H893.64" class="s"/><path d="M889.74 499.5H894.94" class="m"/><circle cx="892.34" cy="480.6" r="2.3" class="o"/>
<rect x="896.24" y="466.9" width="5.2" height="12.6" class="b"/><path d="M898.84 448V466.9" class="w"/><path d="M898.84 496.3V479.5" class="w"/><path d="M897.54 448H900.14M897.54 496.3H900.14" class="s"/><path d="M896.24 473.2H901.44" class="m"/><circle cx="898.84" cy="433.7" r="2.3" class="o"/><circle cx="898.84" cy="437.5" r="2.3" class="o"/><circle cx="898.84" cy="441.7" r="2.3" class="o"/><circle cx="898.84" cy="445.9" r="2.3" class="o"/><circle cx="898.84" cy="506.8" r="2.3" class="o"/>
<rect x="902.75" y="434" width="5.2" height="19.7" class="b"/><path d="M905.35 406.3V434" class="w"/><path d="M905.35 482.7V453.7" class="w"/><path d="M904.05 406.3H906.65M904.05 482.7H906.65" class="s"/><path d="M902.75 443.5H907.95" class="m"/><circle cx="905.35" cy="397.8" r="2.3" class="o"/><circle cx="905.35" cy="487.8" r="2.3" class="o"/>
<rect x="909.26" y="484.5" width="5.2" height="10" class="b"/><path d="M911.86 470.6V484.5" class="w"/><path d="M911.86 504.5V494.5" class="w"/><path d="M910.56 470.6H913.16M910.56 504.5H913.16" class="s"/><path d="M909.26 489.6H914.46" class="m"/><circle cx="911.86" cy="510.9" r="2.3" class="o"/>
<rect x="915.76" y="475.8" width="5.2" height="12.4" class="b"/><path d="M918.36 458.5V475.8" class="w"/><path d="M918.36 504.5V488.2" class="w"/><path d="M917.06 458.5H919.66M917.06 504.5H919.66" class="s"/><path d="M915.76 483.2H920.96" class="m"/>
<rect x="922.27" y="485.5" width="5.2" height="11.5" class="b"/><path d="M924.87 469.5V485.5" class="w"/><path d="M924.87 511.2V497" class="w"/><path d="M923.57 469.5H926.17M923.57 511.2H926.17" class="s"/><path d="M922.27 490.5H927.47" class="m"/><circle cx="924.87" cy="460.6" r="2.3" class="o"/><circle cx="924.87" cy="467" r="2.3" class="o"/>
<rect x="928.77" y="275.9" width="5.2" height="56.1" class="b"/><path d="M931.37 193.4V275.9" class="w"/><path d="M931.37 417.3V332" class="w"/><path d="M930.07 193.4H932.67M930.07 417.3H932.67" class="s"/><path d="M928.77 302.7H933.97" class="m"/><circle cx="931.37" cy="89" r="2.3" class="o"/><circle cx="931.37" cy="141.5" r="2.3" class="o"/><circle cx="931.37" cy="146.2" r="2.3" class="o"/><circle cx="931.37" cy="149.4" r="2.3" class="o"/><circle cx="931.37" cy="160.4" r="2.3" class="o"/><circle cx="931.37" cy="164.6" r="2.3" class="o"/><circle cx="931.37" cy="169.8" r="2.3" class="o"/><circle cx="931.37" cy="172.9" r="2.3" class="o"/><circle cx="931.37" cy="178" r="2.3" class="o"/><circle cx="931.37" cy="179.5" r="2.3" class="o"/><circle cx="931.37" cy="441.6" r="2.3" class="o"/><circle cx="931.37" cy="449.6" r="2.3" class="o"/><circle cx="931.37" cy="458.1" r="2.3" class="o"/>
<rect x="935.28" y="460.3" width="5.2" height="21.4" class="b"/><path d="M937.88 432.2V460.3" class="w"/><path d="M937.88 505V481.7" class="w"/><path d="M936.58 432.2H939.18M936.58 505H939.18" class="s"/><path d="M935.28 473.4H940.48" class="m"/><circle cx="937.88" cy="418.5" r="2.3" class="o"/><circle cx="937.88" cy="421.3" r="2.3" class="o"/><circle cx="937.88" cy="424" r="2.3" class="o"/><circle cx="937.88" cy="426.6" r="2.3" class="o"/>
<rect x="941.78" y="459.1" width="5.2" height="24.2" class="b"/><path d="M944.38 424.6V459.1" class="w"/><path d="M944.38 505V483.3" class="w"/><path d="M943.08 424.6H945.68M943.08 505H945.68" class="s"/><path d="M941.78 473.4H946.98" class="m"/><circle cx="944.38" cy="412.8" r="2.3" class="o"/><circle cx="944.38" cy="417" r="2.3" class="o"/>
<rect x="948.29" y="310.7" width="5.2" height="46.6" class="b"/><path d="M950.89 246V310.7" class="w"/><path d="M950.89 427.5V357.3" class="w"/><path d="M949.59 246H952.19M949.59 427.5H952.19" class="s"/><path d="M948.29 336.4H953.49" class="m"/><circle cx="950.89" cy="230.3" r="2.3" class="o"/><circle cx="950.89" cy="443.5" r="2.3" class="o"/><circle cx="950.89" cy="446.5" r="2.3" class="o"/><circle cx="950.89" cy="459" r="2.3" class="o"/>
<rect x="954.79" y="456.3" width="5.2" height="14.4" class="b"/><path d="M957.39 433.7V456.3" class="w"/><path d="M957.39 494.1V470.7" class="w"/><path d="M956.09 433.7H958.69M956.09 494.1H958.69" class="s"/><path d="M954.79 463.5H959.99" class="m"/><circle cx="957.39" cy="413" r="2.3" class="o"/><circle cx="957.39" cy="415.7" r="2.3" class="o"/><circle cx="957.39" cy="419.3" r="2.3" class="o"/><circle cx="957.39" cy="422.9" r="2.3" class="o"/><circle cx="957.39" cy="426.5" r="2.3" class="o"/><circle cx="957.39" cy="430.1" r="2.3" class="o"/><circle cx="957.39" cy="498.6" r="2.3" class="o"/><circle cx="957.39" cy="505.8" r="2.3" class="o"/>
<line x1="554.1" y1="1.3" x2="554.1" y2="550.9" stroke="#c0c0c0" stroke-width="1.4" stroke-dasharray="5 6" stroke-dashoffset="-5.5"/>
<line x1="716.7" y1="1.3" x2="716.7" y2="550.9" stroke="#c0c0c0" stroke-width="1.4" stroke-dasharray="5 6" stroke-dashoffset="-5.5"/>
<rect x="101.3" y="1.3" width="892.4" height="549.6" fill="none" stroke="#000" stroke-width="1.6"/>
<path d="M87.3 530.6H101.3" class="t"/>
<text x="74.8" y="538.1" class="yl">0</text>
<path d="M87.3 405.95H101.3" class="t"/>
<text x="74.8" y="413.45" class="yl">5</text>
<path d="M87.3 281.3H101.3" class="t"/>
<text x="74.8" y="288.8" class="yl">10</text>
<path d="M87.3 156.65H101.3" class="t"/>
<text x="74.8" y="164.15" class="yl">15</text>
<path d="M87.3 32H101.3" class="t"/>
<text x="74.8" y="39.5" class="yl">20</text>
<path d="M827.28 550.9V564.2" class="t"/>
<text transform="translate(833.88 577.3) rotate(-90)" class="xl">Acetate</text>
<path d="M872.82 550.9V564.2" class="t"/>
<text transform="translate(879.42 577.3) rotate(-90)" class="xl">ButCH2b.1</text>
<path d="M931.37 550.9V564.2" class="t"/>
<text transform="translate(937.97 577.3) rotate(-90)" class="xl">PropCH3.1</text>
<path d="M950.89 550.9V564.2" class="t"/>
<text transform="translate(957.49 577.3) rotate(-90)" class="xl">ButCH3.1</text>
<text x="547.7" y="651.3" class="ti">NMR signal</text>
<text transform="translate(16.5 275.8) rotate(-90)" class="ti" style="font-size:22px">Integral value (in squared–root scale)</text>
</svg>
</body></html>
